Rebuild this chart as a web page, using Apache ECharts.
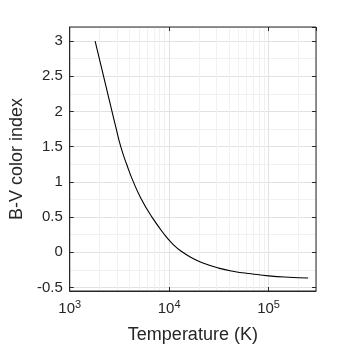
<!DOCTYPE html>
<html>
<head>
<meta charset="utf-8">
<script src="https://cdn.jsdelivr.net/npm/echarts@6/dist/echarts.min.js"></script>
<style>
  html, body { margin: 0; padding: 0; background: #fff; }
  #chart { width: 349px; height: 349px; }
</style>
</head>
<body>
<div id="chart"></div>
<script>
// values
const temps = [1800, 2000, 2190, 2660, 2870, 3260, 3735, 4365, 5270, 6715, 8870, 11000, 13700, 17200, 21500, 31400, 45000, 66700, 100000, 160000, 250000];
const bvIndex = [3.0, 2.73, 2.5, 2.0, 1.81, 1.5, 1.25, 1.0, 0.75, 0.5, 0.26, 0.11, 0.0, -0.085, -0.15, -0.225, -0.272, -0.305, -0.335, -0.355, -0.365];
const minorTemps = [2000, 3000, 4000, 5000, 6000, 7000, 8000, 9000,
                    20000, 30000, 40000, 50000, 60000, 70000, 80000, 90000, 200000];

const axisColor = '#262626';
const font = 'Liberation Sans, Arial, sans-serif';

const chart = echarts.init(document.getElementById('chart'));

const option = {
  animation: false,
  backgroundColor: '#fff',
  grid: {
    left: 64, right: 33, top: 27, bottom: 57,
    show: true, z: 10, backgroundColor: 'transparent',
    borderColor: axisColor, borderWidth: 1
  },
  xAxis: [{
    type: 'log',
    min: 1000,
    max: 300000,
    name: 'Temperature (K)',
    nameLocation: 'middle',
    nameGap: 35,
    nameTextStyle: { fontFamily: font, fontSize: 18, color: axisColor },
    axisLine: { onZero: false, lineStyle: { color: axisColor, width: 1 } },
    axisTick: { inside: true, length: 4, lineStyle: { color: axisColor } },
    splitLine: { show: true, lineStyle: { color: '#e2e2e2', width: 1 } },
    axisLabel: {
      margin: 8,
      showMaxLabel: false,
      fontFamily: font,
      fontSize: 15,
      color: axisColor,
      formatter: function (v) {
        return '10{sup|' + Math.round(Math.log10(v)) + '}';
      },
      rich: {
        sup: { fontFamily: font, fontSize: 11, color: axisColor, verticalAlign: 'top', padding: [0, 0, 9, 0] }
      }
    }
  }, {
    type: 'log',
    position: 'top',
    min: 1000,
    max: 300000,
    axisLine: { show: false, onZero: false },
    axisTick: { inside: true, length: 4, lineStyle: { color: axisColor } },
    axisLabel: { show: false },
    splitLine: { show: false }
  }],
  yAxis: [{
    type: 'value',
    min: -0.55,
    max: 3.2,
    splitNumber: 8,
    name: 'B-V color index',
    nameLocation: 'middle',
    nameGap: 42,
    nameTextStyle: { fontFamily: font, fontSize: 18, color: axisColor },
    axisLine: { show: true, onZero: false, lineStyle: { color: axisColor, width: 1 } },
    axisTick: { show: true, inside: true, length: 4, lineStyle: { color: axisColor } },
    splitLine: { show: true, lineStyle: { color: '#e2e2e2', width: 1 } },
    minorSplitLine: { show: true, lineStyle: { color: '#f1f1f1', width: 1 } },
    minorTick: { show: false, splitNumber: 2 },
    axisLabel: {
      margin: 7,
      showMinLabel: false,
      showMaxLabel: false,
      fontFamily: font,
      fontSize: 15,
      color: axisColor
    }
  }, {
    type: 'value',
    position: 'right',
    min: -0.55,
    max: 3.2,
    splitNumber: 8,
    axisLine: { show: false, onZero: false },
    axisTick: { show: true, inside: true, length: 4, lineStyle: { color: axisColor } },
    axisLabel: { show: false },
    splitLine: { show: false }
  }],
  series: [{
    // minor vertical grid lines of the log axis, kept under the axes
    type: 'line',
    z: -1,
    data: [],
    silent: true,
    markLine: {
      silent: true,
      symbol: 'none',
      animation: false,
      label: { show: false },
      lineStyle: { color: '#f1f1f1', type: 'solid', width: 1 },
      data: minorTemps.map(t => ({ xAxis: t }))
    }
  }, {
    type: 'line',
    z: 5,
    data: temps.map((t, i) => [t, bvIndex[i]]),
    showSymbol: false,
    smooth: 0.5,
    lineStyle: { color: '#000', width: 1.1 }
  }]
};

chart.setOption(option);
</script>
</body>
</html>
